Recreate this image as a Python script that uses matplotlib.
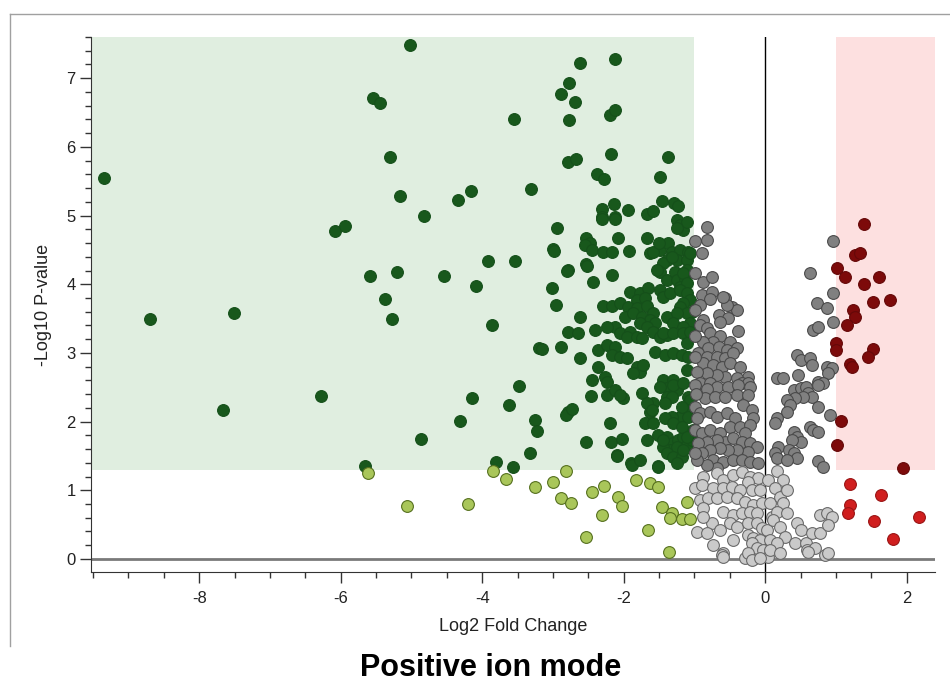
'''
    volcano plot - positive ion mode
'''

import matplotlib.pyplot as plt
from matplotlib.lines import Line2D
from matplotlib.ticker import MultipleLocator

plt.rcParams['font.family'] = ['Liberation Sans', 'DejaVu Sans']
plt.rcParams['axes.unicode_minus'] = False

# (log2 fold change, -log10 p)
down_sig = [
    (-9.34, 5.54), (-8.70, 3.49), (-7.51, 3.58), (-7.66, 2.17), (-6.28, 2.37), (-6.08, 4.77),
    (-5.94, 4.85), (-5.54, 6.71), (-5.44, 6.64), (-5.30, 5.85), (-5.16, 5.29), (-5.59, 4.12),
    (-5.20, 4.18), (-5.38, 3.79), (-5.27, 3.49), (-5.02, 7.49), (-4.82, 4.99), (-4.54, 4.12),
    (-4.34, 5.23), (-4.16, 5.36), (-4.09, 3.97), (-3.92, 4.34), (-3.53, 4.34), (-3.55, 6.41),
    (-3.86, 3.40), (-4.14, 2.34), (-4.32, 2.01), (-4.86, 1.74), (-5.66, 1.35), (-3.48, 2.52),
    (-3.62, 2.24), (-3.80, 1.41), (-3.56, 1.34), (-3.31, 5.38), (-3.20, 3.07), (-3.26, 2.02),
    (-3.22, 1.87), (-3.32, 1.54), (-3.00, 4.52), (-3.01, 3.94), (-2.96, 3.70), (-2.94, 4.82),
    (-2.88, 3.09), (-2.89, 6.77), (-2.78, 6.93), (-2.69, 6.66), (-2.78, 6.39), (-2.62, 7.22),
    (-2.79, 5.78), (-2.67, 5.83), (-2.79, 4.21), (-2.79, 3.30), (-2.64, 3.29), (-2.79, 2.14),
    (-2.82, 2.09), (-2.73, 2.19), (-2.62, 3.52), (-2.62, 2.92), (-2.54, 4.67), (-2.48, 4.60),
    (-2.54, 4.29), (-2.54, 1.70), (-2.38, 5.60), (-2.28, 5.53), (-2.13, 7.28), (-2.19, 6.47),
    (-2.13, 6.54), (-2.18, 5.89), (-1.38, 5.85), (-1.49, 5.56), (-2.31, 5.10), (-2.31, 4.98),
    (-2.14, 5.17), (-2.12, 4.98), (-1.94, 5.08), (-2.08, 4.67), (-1.46, 5.21), (-1.29, 5.19),
    (-1.67, 5.02), (-1.59, 5.06), (-2.18, 1.70), (-2.10, 1.52), (-1.89, 1.39), (-2.03, 1.74),
    (-1.51, 1.36),
    (-1.23, 5.14), (-2.31, 4.95), (-2.12, 4.95), (-1.24, 4.93), (-1.20, 4.86), (-1.16, 4.79),
    (-1.10, 4.91), (-1.25, 4.82), (-2.55, 4.57), (-2.45, 4.50), (-2.29, 4.47), (-2.16, 4.47),
    (-1.92, 4.48), (-1.67, 4.67), (-1.63, 4.45), (-1.49, 4.50), (-1.37, 4.60), (-1.32, 4.47),
    (-1.20, 4.50), (-1.09, 4.47), (-1.58, 4.47), (-1.50, 4.60), (-1.39, 4.35), (-1.25, 4.35),
    (-1.10, 4.35), (-2.98, 4.48), (-2.80, 4.19), (-2.52, 4.27), (-2.16, 4.13), (-2.43, 4.03),
    (-1.44, 4.31), (-1.32, 4.40), (-1.06, 4.45), (-1.49, 4.18), (-1.39, 4.06), (-1.27, 4.18),
    (-1.10, 4.21), (-1.25, 4.06), (-1.13, 4.06), (-1.53, 4.21), (-1.16, 4.16), (-1.20, 3.96),
    (-1.10, 4.02), (-1.49, 3.92), (-1.44, 3.81), (-1.34, 3.87), (-1.91, 3.89), (-1.77, 3.87),
    (-1.65, 3.94), (-1.81, 3.77), (-1.70, 3.80), (-2.29, 3.68), (-2.16, 3.68), (-2.05, 3.73),
    (-1.94, 3.67), (-1.81, 3.65), (-1.67, 3.68), (-1.20, 3.92), (-1.10, 3.87), (-1.06, 3.77),
    (-1.16, 3.73), (-1.03, 3.60), (-1.20, 3.67), (-1.10, 3.58), (-1.06, 3.44), (-1.58, 3.58),
    (-1.39, 3.52), (-1.25, 3.58), (-1.30, 3.44), (-1.16, 3.38), (-1.98, 3.52), (-2.12, 3.38),
    (-2.23, 3.38), (-2.40, 3.33), (-2.05, 3.29), (-1.91, 3.30), (-1.87, 3.58), (-1.74, 3.52),
    (-1.63, 3.48), (-1.56, 3.44), (-1.77, 3.44), (-1.67, 3.38), (-1.58, 3.30), (-1.49, 3.23),
    (-1.39, 3.26), (-3.15, 3.06), (-2.36, 2.80), (-2.45, 2.61), (-2.26, 2.65), (-2.23, 2.58),
    (-2.46, 2.37), (-2.23, 2.39), (-2.12, 2.46), (-2.01, 2.34), (-2.05, 2.39), (-2.36, 3.04),
    (-2.23, 3.12), (-2.12, 3.09), (-2.16, 2.97), (-2.05, 2.94), (-1.95, 2.93), (-1.95, 3.23),
    (-1.81, 3.23), (-1.74, 3.22), (-1.44, 3.29), (-1.30, 3.29), (-1.16, 3.29), (-1.06, 3.30),
    (-1.56, 3.01), (-1.41, 2.97), (-1.30, 3.00), (-1.17, 2.97), (-1.09, 2.94), (-1.10, 3.14),
    (-1.81, 2.80), (-1.77, 2.72), (-1.87, 2.71), (-1.73, 2.82), (-1.44, 2.61), (-1.30, 2.61),
    (-1.39, 2.49), (-1.49, 2.50), (-1.25, 2.46), (-1.30, 2.53), (-1.39, 2.36), (-1.32, 2.36),
    (-1.10, 2.75), (-1.16, 2.56), (-1.09, 2.36), (-1.74, 2.42), (-1.58, 2.27), (-1.63, 2.14),
    (-1.41, 2.27), (-1.06, 2.31), (-1.67, 2.27), (-1.60, 2.17), (-1.10, 2.17), (-1.20, 2.07),
    (-1.32, 2.07), (-1.41, 2.05), (-1.30, 1.98), (-1.17, 2.21), (-2.19, 1.98), (-1.70, 1.98),
    (-1.67, 1.73), (-1.51, 1.80), (-1.58, 1.98), (-1.39, 1.78), (-1.30, 1.69), (-1.23, 1.73),
    (-1.16, 1.78), (-1.10, 1.66), (-1.20, 1.59), (-1.34, 1.59), (-1.44, 1.63), (-1.44, 1.73),
    (-1.25, 1.63), (-1.39, 1.54), (-1.30, 1.48), (-1.17, 1.48), (-2.09, 1.50), (-1.88, 1.37),
    (-1.77, 1.44), (-1.51, 1.34), (-1.25, 1.40), (-1.09, 2.07), (-1.02, 1.88), (-1.03, 1.73),
    (-1.17, 1.92), (-1.10, 1.78), (-1.16, 1.59),
]

down_ns = [
    (-5.62, 1.25), (-5.06, 0.77), (-4.20, 0.80), (-3.85, 1.28), (-3.66, 1.16), (-3.25, 1.05),
    (-3.00, 1.12), (-2.81, 1.28), (-2.88, 0.89), (-2.74, 0.81), (-2.53, 0.32), (-2.45, 0.98),
    (-2.28, 1.06), (-2.31, 0.64), (-2.08, 0.90), (-2.02, 0.77), (-1.82, 1.15), (-1.63, 1.11),
    (-1.51, 1.05), (-1.65, 0.42), (-1.46, 0.76), (-1.32, 0.67), (-1.34, 0.60), (-1.17, 0.58),
    (-1.07, 0.58), (-1.10, 0.83), (-1.36, 0.10),
]

mid_sig = [
    (-0.82, 4.83), (-0.99, 4.63), (-0.82, 4.64), (-0.89, 4.45), (-0.99, 4.16), (-0.88, 4.03),
    (-0.75, 4.10), (-0.89, 3.84), (-0.75, 3.89), (-0.78, 3.78), (-0.92, 3.70), (-0.99, 3.62),
    (-0.57, 3.80), (-0.47, 3.67), (-0.40, 3.62), (-0.54, 3.70), (-0.59, 3.81), (-0.66, 3.55),
    (-0.52, 3.51), (-0.64, 3.45), (-0.88, 3.48), (-0.92, 3.41), (-0.82, 3.36), (-0.38, 3.32),
    (-0.78, 3.29), (-0.64, 3.25), (-0.50, 3.16), (-0.74, 3.16), (-0.88, 3.16), (-0.81, 3.07),
    (-0.66, 3.09), (-0.54, 3.04), (-0.40, 3.07), (-0.95, 3.00), (-0.82, 2.94), (-0.68, 2.94),
    (-0.57, 2.93), (-0.45, 3.00), (-0.88, 2.85), (-0.74, 2.82), (-0.61, 2.79), (-0.50, 2.85),
    (-0.35, 2.79), (-0.25, 2.65), (-0.40, 2.63), (-0.57, 2.65), (-0.68, 2.68), (-0.82, 2.71),
    (-0.96, 2.72), (-0.92, 2.56), (-0.78, 2.56), (-0.68, 2.50), (-0.52, 2.50), (-0.33, 2.56),
    (-0.24, 2.56), (-0.99, 2.53), (-0.82, 2.48), (-0.38, 2.53), (-0.21, 2.50), (-0.85, 2.34),
    (-0.71, 2.36), (-0.57, 2.36), (-0.40, 2.39), (-0.25, 2.39), (-0.31, 2.24), (-0.18, 2.17),
    (-0.17, 2.05), (-0.99, 2.21), (-0.92, 2.13), (-0.78, 2.14), (-0.68, 2.07), (-0.54, 2.13),
    (-0.42, 2.05), (-0.50, 1.92), (-0.35, 1.92), (-0.21, 1.95), (-0.28, 1.83), (-0.99, 1.88),
    (-0.89, 1.83), (-0.78, 1.88), (-0.64, 1.83), (-0.57, 1.70), (-0.68, 1.73), (-0.82, 1.70),
    (-0.95, 1.69), (-0.45, 1.76), (-0.33, 1.70), (-0.21, 1.69), (-0.11, 1.63), (-0.25, 1.56),
    (-0.40, 1.59), (-0.52, 1.59), (-0.64, 1.62), (-0.78, 1.59), (-0.89, 1.54), (-0.74, 1.44),
    (-0.59, 1.41), (-0.45, 1.44), (-0.33, 1.44), (-0.21, 1.41), (-0.10, 1.40), (-0.68, 1.32),
    (-0.82, 1.37), (-0.96, 1.44), (-0.99, 3.25), (-0.99, 2.94), (-0.98, 2.40), (-0.97, 2.05),
    (-0.99, 1.55),
    (0.96, 4.63), (0.64, 4.16), (0.96, 3.87), (0.73, 3.72), (0.88, 3.65), (0.96, 3.45),
    (0.68, 3.33), (0.75, 3.38), (0.45, 2.97), (0.50, 2.90), (0.64, 2.93), (0.66, 2.82),
    (0.88, 2.80), (0.95, 2.78), (0.89, 2.71), (0.17, 2.63), (0.25, 2.63), (0.47, 2.68),
    (0.75, 2.58), (0.81, 2.56), (0.74, 2.53), (0.40, 2.46), (0.50, 2.49), (0.57, 2.50),
    (0.61, 2.42), (0.66, 2.36), (0.54, 2.36), (0.42, 2.34), (0.31, 2.31), (0.35, 2.24),
    (0.31, 2.14), (0.75, 2.21), (0.92, 2.10), (0.17, 2.05), (0.14, 1.98), (0.64, 1.92),
    (0.68, 1.88), (0.74, 1.85), (0.40, 1.85), (0.45, 1.78), (0.50, 1.70), (0.38, 1.73),
    (0.18, 1.63), (0.14, 1.54), (0.17, 1.47), (0.33, 1.59), (0.40, 1.54), (0.45, 1.47),
    (0.31, 1.44), (0.74, 1.43), (0.82, 1.34),
]

mid_ns = [
    (-0.88, 1.19), (-0.99, 1.03), (-0.89, 1.08), (-0.68, 1.25), (-0.59, 1.15), (-0.45, 1.22),
    (-0.33, 1.27), (-0.21, 1.19), (-0.10, 1.18), (-0.25, 1.12), (-0.74, 1.03), (-0.59, 1.03),
    (-0.47, 1.05), (-0.35, 1.00), (-0.18, 1.00), (-0.07, 1.00), (-0.92, 0.86), (-0.81, 0.89),
    (-0.68, 0.89), (-0.54, 0.90), (-0.40, 0.89), (-0.28, 0.83), (-0.17, 0.79), (-0.04, 0.82),
    (-0.88, 0.74), (-0.59, 0.68), (-0.45, 0.64), (-0.33, 0.67), (-0.21, 0.68), (-0.11, 0.67),
    (-0.75, 0.52), (-0.96, 0.39), (-0.82, 0.38), (-0.64, 0.42), (-0.50, 0.52), (-0.40, 0.47),
    (-0.25, 0.52), (-0.11, 0.52), (-0.04, 0.45), (-0.45, 0.28), (-0.25, 0.35), (-0.17, 0.31),
    (-0.07, 0.28), (-0.74, 0.20), (-0.59, 0.09), (-0.28, 0.01), (-0.14, 0.01), (-0.07, 0.06),
    (-0.88, 0.61), (-0.61, 0.06), (-0.18, 0.23), (-0.11, 0.16), (-0.25, 0.09), (-0.18, -0.01),
    (-0.59, 0.03),
    (0.04, 1.15), (0.07, 0.82), (0.10, 0.61), (0.03, 0.42), (0.07, 0.28), (-0.03, 0.13),
    (0.04, 0.03), (-0.07, 0.01), (0.17, 1.28), (0.25, 1.15), (0.14, 1.03), (0.21, 0.90),
    (0.31, 1.00), (0.25, 0.82), (0.17, 0.68), (0.31, 0.67), (0.11, 0.57), (0.21, 0.47),
    (0.28, 0.32), (0.17, 0.23), (0.07, 0.13), (0.21, 0.09), (0.45, 0.52), (0.50, 0.42),
    (0.42, 0.23), (0.57, 0.23), (0.59, 0.13), (0.66, 0.38), (0.78, 0.38), (0.78, 0.64),
    (0.88, 0.67), (0.95, 0.61), (0.89, 0.49), (0.85, 0.06), (0.89, 0.09), (0.71, 0.16),
    (0.61, 0.10),
]

up_sig = [
    (1.39, 4.88), (1.27, 4.42), (1.34, 4.45), (1.02, 4.23), (1.13, 4.11), (1.40, 4.00),
    (1.61, 4.11), (1.53, 3.74), (1.77, 3.77), (1.24, 3.62), (1.27, 3.52), (1.16, 3.41),
    (1.00, 3.14), (1.00, 3.04), (1.53, 3.06), (1.46, 2.94), (1.20, 2.84), (1.23, 2.80),
    (1.07, 2.01), (1.02, 1.66), (1.95, 1.32),
]

up_ns = [
    (1.20, 1.09), (1.63, 0.93), (1.20, 0.79), (1.17, 0.67), (1.54, 0.55), (2.18, 0.61),
    (1.80, 0.29),
]

fc_cut = 1.0
p_cut = 1.3
x_ticks = [-8, -6, -4, -2, 0, 2]
y_ticks = [0, 1, 2, 3, 4, 5, 6, 7]
x_min, x_max = -9.53, 2.4
y_min, y_max = -0.19, 7.6

fig = plt.figure(figsize=(9.5, 6.87), dpi=100)
ax = fig.add_axes([91 / 950, 1 - 572 / 687, (935 - 91) / 950, (572 - 37) / 687])

# zonas de significancia
ax.fill_between([x_min, -fc_cut], p_cut, y_max, color='#e0eee0', lw=0, zorder=0)
ax.fill_between([fc_cut, x_max], p_cut, y_max, color='#fde0e0', lw=0, zorder=0)

ax.axhline(0, color='#7a7a7a', lw=2, zorder=1)
ax.axvline(0, color='black', lw=1, zorder=1)

grupos = [
    (down_sig, '#18581c', '#15501a'),
    (down_ns, '#a9c65a', '#56701f'),
    (mid_sig, '#808080', '#4a4a4a'),
    (mid_ns, '#cacaca', '#6a6a6a'),
    (up_sig, '#7d0a0a', '#650808'),
    (up_ns, '#d01e1e', '#9a1414'),
]
for puntos, cara, borde in grupos:
    xs, ys = zip(*puntos)
    ax.scatter(xs, ys, s=72, c=cara, edgecolors=borde, linewidths=0.8, zorder=2)

ax.set_xlim(x_min, x_max)
ax.set_ylim(y_min, y_max)
ax.set_xticks(x_ticks)
ax.set_yticks(y_ticks)
ax.xaxis.set_minor_locator(MultipleLocator(0.5))
ax.yaxis.set_minor_locator(MultipleLocator(0.2))

for lado in ['top', 'right']:
    ax.spines[lado].set_visible(False)
for lado in ['left', 'bottom']:
    ax.spines[lado].set_color('#333333')

ax.tick_params(which='major', direction='out', length=8, width=1, colors='#333333',
               labelsize=12, labelcolor='#222222')
ax.tick_params(which='minor', direction='out', length=4, width=1, colors='#333333')
ax.tick_params(axis='x', pad=6)
ax.tick_params(axis='y', pad=3)

ax.set_xlabel('Log2 Fold Change', fontsize=13, color='#222222', labelpad=8)
ax.set_ylabel('-Log10 P-value', fontsize=13, color='#222222', labelpad=10)

fig.text(0.516, 0.028, 'Positive ion mode', ha='center', va='center',
         fontsize=22, fontweight='bold')

# marco del panel
fig.add_artist(Line2D([10 / 950, 1], [1 - 14 / 687] * 2, color='#a0a0a0', lw=1,
                      transform=fig.transFigure))
fig.add_artist(Line2D([10 / 950] * 2, [1 - 14 / 687, 1 - 646 / 687], color='#a0a0a0', lw=1,
                      transform=fig.transFigure))

fig.savefig('out.png', dpi=100)
